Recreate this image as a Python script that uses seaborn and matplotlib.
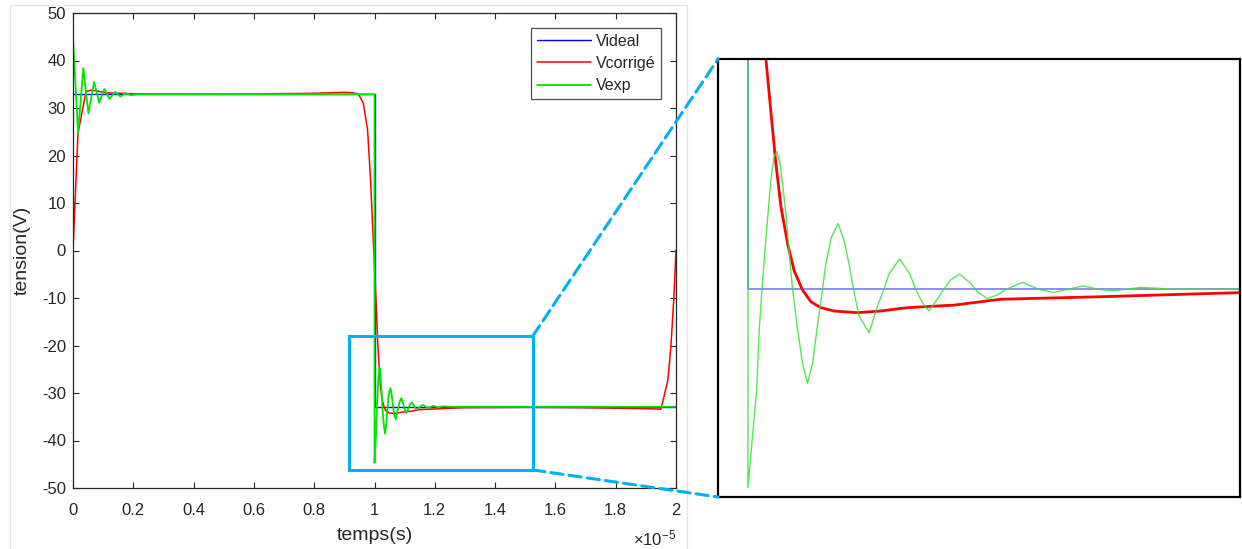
import matplotlib
matplotlib.use('Agg')
import numpy as np
import pandas as pd
import matplotlib.pyplot as plt
import seaborn as sns
from matplotlib.patches import Rectangle, ConnectionPatch
from matplotlib.ticker import FuncFormatter

# time axis in units of 1e-5 s, tension in V
ideal_t = [0, 1.0, 1.0, 2.0]
ideal_v = [32.9, 32.9, -32.9, -32.9]

corr_t = [0, 0.005, 0.0166, 0.027, 0.043, 0.06, 0.11, 0.2, 0.5, 0.8, 0.9, 0.93,
          0.947, 0.963, 0.977, 0.987, 0.997, 1.007, 1.0105, 1.0144, 1.0163, 1.0193,
          1.0232, 1.0270, 1.0319, 1.0368, 1.0426, 1.0504, 1.0640, 1.0776, 1.0932,
          1.1204, 1.1476, 1.206, 1.289, 1.5, 1.7, 1.9, 1.95, 1.96, 1.973, 1.983,
          1.993, 2.0]
corr_v = [0, 7.5, 24.7, 28.1, 33.4, 33.8, 33.2, 33.0, 32.9, 33.1, 33.3, 33.2,
          32.9, 31.0, 25.4, 14.8, 0.7, -13.2, -19.2, -23.4, -25.4, -28.0,
          -30.2, -31.8, -32.95, -33.65, -34.0, -34.2, -34.3, -34.2, -34.0,
          -33.85, -33.5, -33.35, -33.1, -33.0, -33.1, -33.3, -33.4, -30.8, -27.3,
          -20.3, -9.8, 0.1]

# Vexp: ringing after the rising edge (t=0), flat top, then the falling edge at t=1
exp_t = [0, 0.017, 0.034, 0.051, 0.07, 0.087, 0.104, 0.121, 0.14, 0.157, 0.175, 0.193,
         0.21, 0.25, 1.0,
         1.0, 1.0051, 1.0066, 1.0082, 1.0109, 1.0134, 1.0153, 1.0169, 1.0188, 1.0222,
         1.0247, 1.0261, 1.0290, 1.0319, 1.0348, 1.0378, 1.0403, 1.0436, 1.0455,
         1.0488, 1.0527, 1.0562, 1.0591, 1.0617, 1.0649, 1.0709, 1.0757, 1.0795,
         1.0824, 1.0887, 1.0947, 1.0980, 1.1019, 1.1058, 1.1103, 1.1145, 1.1184,
         1.1237, 1.1301, 1.1340, 1.1399, 1.1457, 1.1511, 1.1604, 1.1698, 1.1785,
         1.1873, 1.1960, 1.2042, 1.2130, 1.2293, 1.25, 2.0]
exp_v = [44.7, 24.7, 38.4, 28.9, 35.5, 31.1, 34.0, 31.9, 33.4, 32.4, 33.1, 32.7,
         32.9, 32.9, 32.9,
         -44.7, -38.9, -35.3, -32.9, -29.4, -26.4, -25.0, -24.7, -25.4, -28.4,
         -31.4, -32.9, -35.3, -37.3, -38.5, -37.3, -35.3, -32.9, -31.4,
         -29.8, -29.0, -30.0, -31.4, -32.9, -34.5, -35.5, -33.9, -32.9,
         -32.0, -31.1, -32.0, -32.9, -33.7, -34.2, -33.55, -32.9, -32.35,
         -32.0, -32.55, -33.05, -33.45, -33.25, -32.9, -32.5, -32.9, -33.1,
         -32.9, -32.7, -32.9, -33.0, -32.8, -32.9, -32.9]

labels = ['Videal', 'Vcorrigé', 'Vexp']

sns.set_theme(style='ticks')
plt.rcParams['font.family'] = ['Liberation Sans', 'DejaVu Sans']
plt.rcParams['mathtext.fontset'] = 'custom'
plt.rcParams['mathtext.rm'] = 'Liberation Sans'
plt.rcParams['axes.unicode_minus'] = False

W, H = 1242, 549
fig = plt.figure(figsize=(W / 100, H / 100), dpi=100)
fig.patch.set_facecolor('white')

# light frame of the original figure window
fig.add_artist(Rectangle((10 / W, -0.01), 677 / W, 1 - 5 / H + 0.01, transform=fig.transFigure,
                         fill=False, edgecolor='#e6e6e6', lw=1))

ax = fig.add_axes([73 / W, 1 - 488 / H, 603 / W, 475 / H])
ins = fig.add_axes([718 / W, 1 - 497 / H, 522 / W, 438 / H])

dark = '#262626'

# main plot
sns.lineplot(x=ideal_t, y=ideal_v, ax=ax, color='#0000ff', lw=1.0, estimator=None, sort=False, label=labels[0])
sns.lineplot(x=corr_t, y=corr_v, ax=ax, color='#ff0000', lw=1.1, estimator=None, sort=False, label=labels[1])
sns.lineplot(x=exp_t, y=exp_v, ax=ax, color='#00e600', lw=1.3, estimator=None, sort=False, label=labels[2])

ax.set_xlim(0, 2)
ax.set_ylim(-50, 50)
ax.set_xticks(np.arange(0, 2.01, 0.2))
ax.set_yticks(np.arange(-50, 51, 10))
ax.xaxis.set_major_formatter(FuncFormatter(lambda v, p: f'{v:g}'))
ax.yaxis.set_major_formatter(FuncFormatter(lambda v, p: f'{v:g}'))
ax.tick_params(direction='in', top=True, right=True, length=4, width=0.8,
               colors=dark, labelsize=12)
ax.tick_params(axis='x', pad=11)
ax.tick_params(axis='y', pad=5)
for s in ax.spines.values():
    s.set_color(dark)
    s.set_linewidth(0.9)
ax.set_xlabel('temps(s)', fontsize=14, color=dark, labelpad=6)
ax.set_ylabel('tension(V)', fontsize=14, color=dark, labelpad=8)
ax.text(1.0, -0.12, r'$\mathregular{\times10^{-5}}$', transform=ax.transAxes,
        ha='right', va='baseline', fontsize=12, color=dark)

leg = ax.legend(loc='upper right', bbox_to_anchor=(0.975, 0.968), fontsize=11.5,
                frameon=True, fancybox=False, handlelength=3.4, handletextpad=0.3,
                labelspacing=0.45, borderpad=0.35, borderaxespad=0)
leg.get_frame().set_edgecolor(dark)
leg.get_frame().set_linewidth(0.9)

# zoom box and connectors
box_col = '#00b0f0'
ax.add_patch(Rectangle((0.914, -46.2), 0.611, 28.2, fill=False, edgecolor=box_col, lw=2.2, zorder=5))

# inset zoom
sns.lineplot(x=ideal_t, y=ideal_v, ax=ins, color='#0000ff', alpha=0.45, lw=1.4, estimator=None, sort=False)
sns.lineplot(x=corr_t, y=corr_v, ax=ins, color='#ff0000', lw=2.0, estimator=None, sort=False)
sns.lineplot(x=exp_t, y=exp_v, ax=ins, color='#3ce03c', alpha=0.85, lw=1.0, estimator=None, sort=False)
ins.set_xlim(0.9825, 1.2876)
ins.set_ylim(-45.27, -19.2)
ins.set_xticks([])
ins.set_yticks([])
ins.set_xlabel('')
ins.set_ylabel('')
if ins.get_legend() is not None:
    ins.get_legend().remove()
for s in ins.spines.values():
    s.set_color('black')
    s.set_linewidth(1.6)

for yA, yB in [(-18.0, 1.0), (-46.2, 0.0)]:
    con = ConnectionPatch(xyA=(1.525, yA), coordsA=ax.transData,
                          xyB=(0.0, yB), coordsB=ins.transAxes,
                          color=box_col, lw=2.2, linestyle=(0, (4, 2)))
    fig.add_artist(con)

fig.savefig('out.png', dpi=100, facecolor='white')
